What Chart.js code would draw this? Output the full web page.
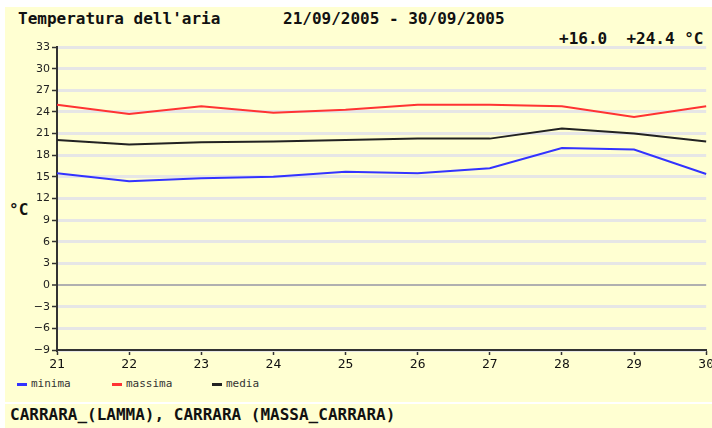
<!DOCTYPE html>
<html>
<head>
<meta charset="utf-8">
<script src="https://cdn.jsdelivr.net/npm/chart.js@4.4.0/dist/chart.umd.min.js"></script>
<style>
  body { margin: 0; background: #fff; width: 712px; height: 428px; overflow: hidden; position: relative; }
  .panel { position: absolute; left: 5px; top: 7px; width: 707px; height: 395px; background: #ffffd2; }
  .foot { position: absolute; left: 5px; top: 404px; width: 707px; height: 24px; background: #ffffd2; }
  .txt { position: absolute; font-family: "DejaVu Sans Mono", monospace; font-weight: bold; color: #111; white-space: pre; }
  #wrap { position: absolute; left: 0; top: 0; width: 716px; height: 400px; }
  .leg { position: absolute; top: 377px; font-family: "DejaVu Sans Mono", monospace; font-size: 11px; color: #333; }
  .leg i { display: inline-block; width: 10px; height: 3px; vertical-align: middle; margin-right: 4px; }
</style>
</head>
<body>
<div class="panel"></div>
<div class="foot"></div>
<div class="txt" style="left:18px; top:9px; font-size:16px;">Temperatura dell'aria</div>
<div class="txt" style="left:283px; top:9px; font-size:16px;">21/09/2005 - 30/09/2005</div>
<div class="txt" style="left:559px; top:29px; font-size:16px;">+16.0  +24.4 °C</div>
<div class="txt" style="left:9px; top:200px; font-size:16px;">°C</div>
<div class="leg" style="left:17px;"><i style="background:#3333ff"></i>minima</div>
<div class="leg" style="left:112px;"><i style="background:#ff3333"></i>massima</div>
<div class="leg" style="left:212px;"><i style="background:#222"></i>media</div>
<div class="txt" style="left:10px; top:405px; font-size:16px;">CARRARA_(LAMMA), CARRARA (MASSA_CARRARA)</div>
<div id="wrap"><canvas id="tempChart" width="716" height="400"></canvas></div>
<script>
// giorni di settembre 2005
const days = ['21', '22', '23', '24', '25', '26', '27', '28', '29', '30'];
const minima = [15.5, 14.4, 14.8, 15.0, 15.7, 15.5, 16.2, 19.0, 18.8, 15.4];
const massima = [25.0, 23.7, 24.8, 23.9, 24.3, 25.0, 25.0, 24.8, 23.3, 24.8];
const media = [20.1, 19.5, 19.8, 19.9, 20.1, 20.3, 20.3, 21.7, 21.0, 19.9];
const yMin = -9, yMax = 33, yStep = 3;

function serie(data, colore) {
  return { data: data, borderColor: colore, borderWidth: 2, pointRadius: 0, tension: 0, fill: false };
}

const ctx = document.getElementById('tempChart').getContext('2d');
new Chart(ctx, {
  type: 'line',
  data: {
    labels: days,
    datasets: [serie(minima, '#3333ff'), serie(massima, '#ff3333'), serie(media, '#222222')]
  },
  options: {
    responsive: false,
    animation: false,
    layout: { padding: { top: 47, right: 0, left: 0, bottom: 0 } },
    plugins: { legend: { display: false }, tooltip: { enabled: false } },
    scales: {
      x: {
        afterFit: s => { s.height = 50; },
        grid: { drawOnChartArea: false, tickLength: 5, tickColor: '#333', tickWidth: 1.5 },
        border: { color: '#333', width: 2 },
        ticks: { color: '#111', padding: 2, maxRotation: 0, font: { family: 'DejaVu Sans Mono', size: 13 } }
      },
      y: {
        min: yMin,
        max: yMax,
        afterFit: s => { s.width = 57; },
        grid: {
          color: c => c.tick && c.tick.value === 0 ? '#b0b0b0' : '#e6e6e6',
          lineWidth: c => c.tick && c.tick.value === 0 ? 2 : 3,
          tickLength: 5,
          tickColor: '#333',
          tickWidth: 1.5
        },
        border: { color: '#333', width: 2 },
        ticks: {
          stepSize: yStep,
          color: '#222',
          padding: 2,
          font: { family: 'DejaVu Sans', size: 11 },
          callback: v => String(v).replace('-', '\u2212')
        }
      }
    }
  }
});
</script>
</body>
</html>
